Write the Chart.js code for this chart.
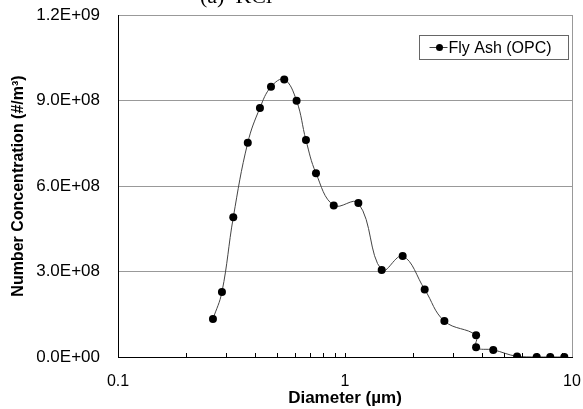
<!DOCTYPE html>
<html>
<head>
<meta charset="utf-8">
<script src="https://cdn.jsdelivr.net/npm/chart.js@4"></script>
<style>
    html, body { margin: 0; padding: 0; background: #fff; }
    #wrap { width: 583px; height: 409px; }
</style>
</head>
<body>
<div id="wrap"><canvas id="psdChart" width="583" height="409"></canvas></div>
<script>
// ---- DATA ----
const diameters = [0.262, 0.287, 0.322, 0.373, 0.422, 0.472, 0.540, 0.612, 0.673, 0.745,
    0.892, 1.145, 1.451, 1.795, 2.244, 2.74, 3.78, 3.78, 4.50, 5.73, 6.99, 8.02, 9.25];
const concentrations = [1.33e8, 2.28e8, 4.90e8, 7.52e8, 8.74e8, 9.48e8, 9.74e8, 8.99e8, 7.61e8, 6.45e8,
    5.32e8, 5.40e8, 3.05e8, 3.54e8, 2.37e8, 1.26e8, 7.6e7, 3.4e7, 2.5e7, 2e6, 0, 0, 0];
const seriesLabel = "Fly Ash (OPC)";
const xTickValues = [0.1, 1, 10];
const xMinorTicks = [0.2, 0.3, 0.4, 0.5, 0.6, 0.7, 0.8, 0.9, 2, 3, 4, 5, 6, 7, 8, 9];
const yTickValues = [0, 3e8, 6e8, 9e8, 1.2e9];
const panelTitle = "(a)  KCl";

const FONT = "'Liberation Sans', Arial, sans-serif";

// Excel-style scientific label: 3.0E+08
function sciLabel(v) {
    if (v === 0) return "0.0E+00";
    const exp = Math.floor(Math.log10(Math.abs(v)));
    const mant = v / Math.pow(10, exp);
    const sign = exp < 0 ? "-" : "+";
    return mant.toFixed(1) + "E" + sign + String(Math.abs(exp)).padStart(2, "0");
}

// ---- PLUGINS ----
// minor tick marks on the log axis, pointing into the plot, plus right border and cut-off title
const frameExtras = {
    id: "frameExtras",
    afterDraw(chart) {
        const ctx = chart.ctx;
        const area = chart.chartArea;
        const x = chart.scales.x;
        ctx.save();
        ctx.strokeStyle = "#000";
        ctx.lineWidth = 1;
        ctx.beginPath();
        xMinorTicks.concat([1]).forEach(v => {
            const px = Math.round(x.getPixelForValue(v)) + 0.5;
            ctx.moveTo(px, area.bottom);
            ctx.lineTo(px, area.bottom - 4);
        });
        ctx.stroke();

        ctx.strokeStyle = "#999";
        ctx.beginPath();
        ctx.moveTo(Math.round(area.right) + 0.5, area.top);
        ctx.lineTo(Math.round(area.right) + 0.5, area.bottom);
        ctx.stroke();

        ctx.fillStyle = "#000";
        ctx.font = "22px 'Liberation Serif', 'Times New Roman', serif";
        ctx.textAlign = "left";
        ctx.textBaseline = "alphabetic";
        ctx.fillText(panelTitle, 200, 3);
        ctx.restore();
    }
};

// legend box like Excel's: line + marker, boxed
const boxedLegend = {
    id: "boxedLegend",
    afterDraw(chart) {
        const ctx = chart.ctx;
        const ds = chart.data.datasets[0];
        const bx = 419.5, by = 35.5, bw = 149, bh = 24;
        ctx.save();
        ctx.fillStyle = "#fff";
        ctx.fillRect(bx, by, bw, bh);
        ctx.strokeStyle = "#666";
        ctx.lineWidth = 1;
        ctx.strokeRect(bx, by, bw, bh);
        const cy = by + bh / 2;
        ctx.strokeStyle = ds.borderColor;
        ctx.beginPath();
        ctx.moveTo(bx + 10, cy);
        ctx.lineTo(bx + 28, cy);
        ctx.stroke();
        ctx.fillStyle = "#000";
        ctx.beginPath();
        ctx.arc(bx + 20, cy, 3.5, 0, Math.PI * 2);
        ctx.fill();
        ctx.font = "16px " + FONT;
        ctx.textBaseline = "middle";
        ctx.fillText(ds.label, bx + 29, cy + 1);
        ctx.restore();
    }
};

// ---- CHART ----
const ctx = document.getElementById("psdChart").getContext("2d");
new Chart(ctx, {
    type: "line",
    data: {
        datasets: [{
            label: seriesLabel,
            data: diameters.map((d, i) => ({ x: d, y: concentrations[i] })),
            borderColor: "#444",
            borderWidth: 1,
            tension: 0.4,
            pointRadius: 4,
            pointBackgroundColor: "#000",
            pointBorderColor: "#000",
            pointBorderWidth: 0,
            fill: false
        }]
    },
    options: {
        responsive: false,
        animation: false,
        devicePixelRatio: 1,
        layout: { autoPadding: false, padding: { top: 15, right: 11, left: 0, bottom: 0 } },
        plugins: {
            legend: { display: false },
            tooltip: { enabled: false }
        },
        scales: {
            x: {
                type: "logarithmic",
                min: 0.1,
                max: 10,
                afterBuildTicks: scale => {
                    scale.ticks = xTickValues.map(v => ({ value: v }));
                },
                afterFit: scale => {
                    scale.height = 52;
                    scale.paddingLeft = 0;
                    scale.paddingRight = 0;
                },
                ticks: {
                    color: "#000",
                    font: { family: FONT, size: 16 },
                    padding: 15,
                    maxRotation: 0,
                    callback: v => String(v)
                },
                grid: { display: false, drawTicks: false },
                border: { color: "#000", width: 1 },
                title: {
                    display: true,
                    text: "Diameter (µm)",
                    color: "#000",
                    font: { family: FONT, size: 17, weight: "bold" },
                    padding: { top: 0, bottom: 0 }
                }
            },
            y: {
                min: 0,
                max: 1.2e9,
                afterBuildTicks: scale => {
                    scale.ticks = yTickValues.map(v => ({ value: v }));
                },
                afterFit: scale => {
                    scale.width = 118;
                    scale.paddingTop = 0;
                    scale.paddingBottom = 0;
                },
                ticks: {
                    color: "#000",
                    font: { family: FONT, size: 17 },
                    padding: 18,
                    callback: v => sciLabel(v)
                },
                grid: { color: "#999", lineWidth: 1, drawTicks: false },
                border: { color: "#000", width: 1 },
                title: {
                    display: true,
                    text: "Number Concentration (#/m³)",
                    color: "#000",
                    font: { family: FONT, size: 16, weight: "bold" },
                    padding: { top: 9, bottom: 0 }
                }
            }
        }
    },
    plugins: [frameExtras, boxedLegend]
});
</script>
</body>
</html>
